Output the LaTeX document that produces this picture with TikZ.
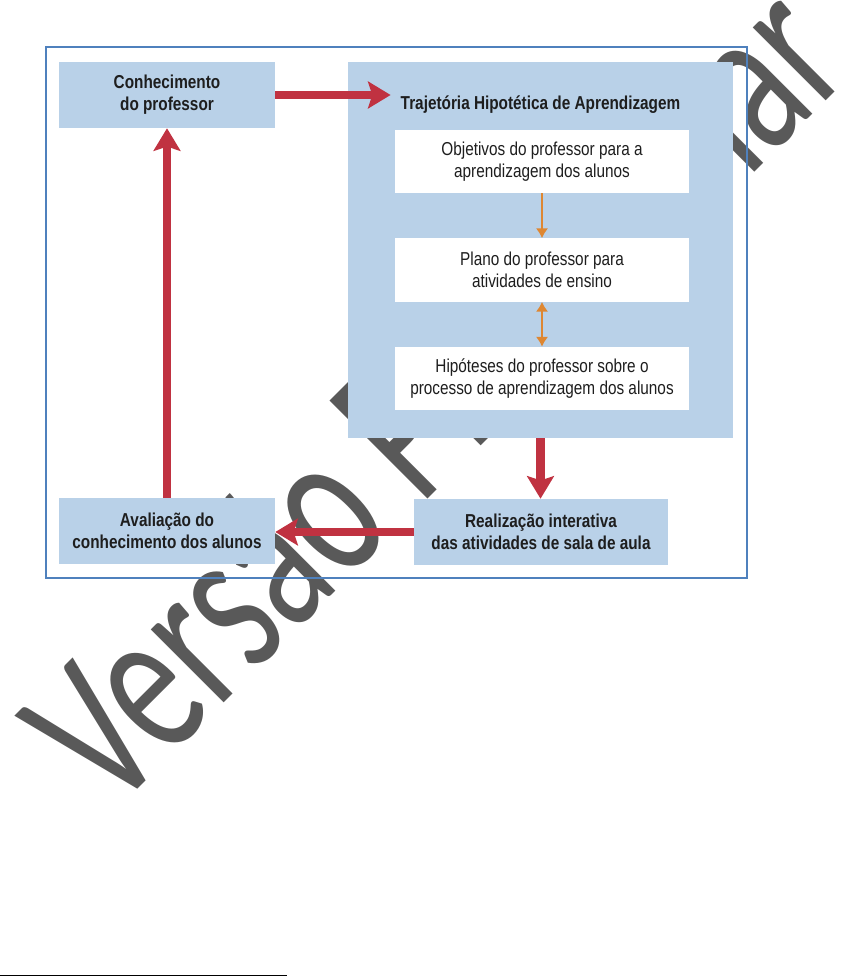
\documentclass[tikz,border=0pt]{standalone}
\usepackage{fontspec}
\usetikzlibrary{arrows.meta}

\newfontfamily\boxfont[FakeStretch=0.82]{Liberation Sans}
\newfontfamily\markfont[FakeStretch=0.68]{Carlito}

\definecolor{boxblue}{RGB}{185,209,232}
\definecolor{framblue}{RGB}{79,129,189}
\definecolor{arrred}{RGB}{192,50,65}
\definecolor{arrorange}{RGB}{222,135,50}
\definecolor{markgray}{RGB}{89,89,89}
\definecolor{textdark}{RGB}{30,30,30}

\begin{document}
\begin{tikzpicture}[
    x=0.025cm, y=-0.025cm,
    bluebox/.style={fill=boxblue, inner sep=0pt, align=center, text=textdark,
        font=\boxfont\bfseries\fontsize{13.3}{15.5}\selectfont},
    whitebox/.style={fill=white, inner sep=0pt, align=center, text=textdark,
        minimum width=7.35cm, minimum height=1.58cm,
        font=\boxfont\fontsize{13.3}{15.5}\selectfont},
    redarrow/.style={-{Stealth[length=16pt, width=19pt, inset=3pt]}, line width=6pt, arrred},
    orangearrow/.style={line width=1.8pt, arrorange},
    >={Latex[length=7pt, width=9pt]}
]
    \useasboundingbox (0,0) rectangle (843,977);
    \clip (0,0) rectangle (843,977);

    % 0. Watermark (behind everything)
    \node[anchor=base west, inner sep=0pt, rotate=45, text=markgray,
        font=\markfont\fontsize{153.6}{160}\selectfont] (mark) at (112,815) {Versão Preliminar};

    % 1. Frame
    \draw[framblue, line width=1.4pt] (46,47) rectangle (747,578);

    % 2. Left column
    \node[bluebox, minimum width=5.4cm, minimum height=1.65cm] (conh) at (167,95) {Conhecimento\\do professor};
    \node[bluebox, minimum width=5.4cm, minimum height=1.65cm] (aval) at (167,531) {Avaliação do\\conhecimento dos alunos};

    % 3. Big box with the three inner boxes
    \node[fill=boxblue, minimum width=9.625cm, minimum height=9.4cm] (traj) at (540.5,250) {};
    \node[bluebox, anchor=base, inner xsep=7pt] (title) at (540.5,110) {Trajetória Hipotética de Aprendizagem};
    \node[whitebox] (obj) at (542,161.5) {Objetivos do professor para a\\aprendizagem dos alunos};
    \node[whitebox] (plano) at (542,270) {Plano do professor para\\atividades de ensino};
    \node[whitebox] (hipo) at (542,378.5) {Hipóteses do professor sobre o\\processo de aprendizagem dos alunos};

    % 4. Bottom right
    \node[bluebox, minimum width=6.35cm, minimum height=1.65cm] (real) at (541,532) {Realização interativa\\das atividades de sala de aula};

    % Arrows
    \draw[redarrow] (conh.east) -- (conh.east -| title.west);
    \draw[orangearrow, ->] (obj) -- (plano);
    \draw[orangearrow, <->] (plano) -- (hipo);
    \draw[redarrow] (traj.south) -- (traj.south |- real.north);
    \draw[redarrow] (real.west) -- (real.west -| aval.east);
    \draw[redarrow] (aval) -- (conh);

    % Footnote rule
    \draw[line width=1pt] (0,975.5) -- (287,975.5);
\end{tikzpicture}
\end{document}
